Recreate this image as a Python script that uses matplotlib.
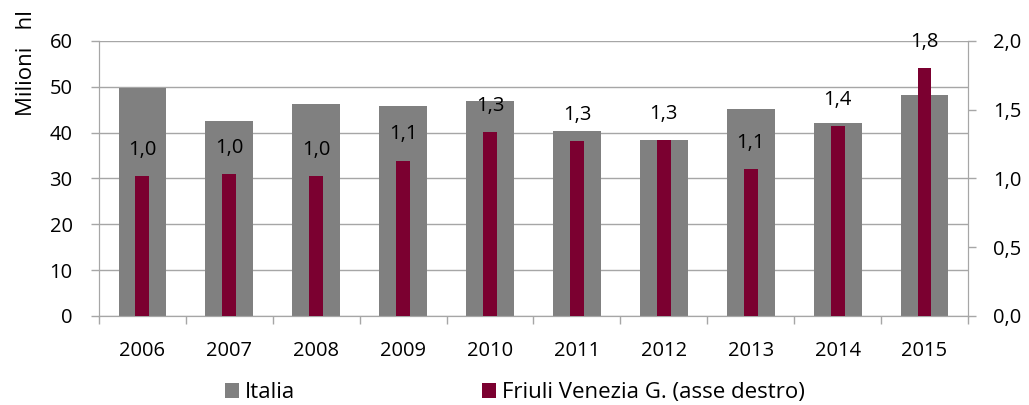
import numpy as np
import matplotlib
matplotlib.use("Agg")
import matplotlib.pyplot as plt
from matplotlib.ticker import FixedLocator

plt.rcParams['font.family'] = ['Open Sans', 'DejaVu Sans']

anni = ['2006', '2007', '2008', '2009', '2010', '2011', '2012', '2013', '2014', '2015']
italia = [49.7, 42.6, 46.3, 45.9, 46.8, 40.4, 38.3, 45.1, 42.1, 48.2]
fvg = [1.02, 1.03, 1.02, 1.13, 1.34, 1.27, 1.28, 1.07, 1.38, 1.80]
fvg_lab = ['1,0', '1,0', '1,0', '1,1', '1,3', '1,3', '1,3', '1,1', '1,4', '1,8']

grigio = '#808080'
rosso = '#7b0030'
linee = '#a6a6a6'
fs = 14.5

fig = plt.figure(figsize=(10.29, 4.05), dpi=100)
ax = fig.add_axes([0.0962, 0.2198, 0.8445, 0.679])
ax2 = ax.twinx()

x = np.arange(len(anni))
b1 = ax.bar(x, italia, width=0.55, color=grigio, zorder=2, label='Italia')
b2 = ax2.bar(x, fvg, width=0.16, color=rosso, zorder=3, label='Friuli Venezia G. (asse destro)')

for xi, v, t in zip(x, fvg, fvg_lab):
    ax2.text(xi, v + 0.19, t, ha='center', va='center', fontsize=fs)

ax.set_xlim(-0.5, len(anni) - 0.5)
ax.set_ylim(0, 60)
ax2.set_ylim(0, 2.0)
ax.set_yticks(range(0, 61, 10))
ax2.set_yticks([0, 0.5, 1.0, 1.5, 2.0])
ax2.set_yticklabels(['0,0', '0,5', '1,0', '1,5', '2,0'])
ax.set_xticks(x)
ax.set_xticklabels(anni)
ax.xaxis.set_minor_locator(FixedLocator(np.arange(-0.5, len(anni), 1)))
ax.tick_params(axis='x', which='major', length=0, pad=18, labelsize=fs)
ax.tick_params(axis='x', which='minor', length=6, color=linee, width=1)
ax.tick_params(axis='y', length=6, color=linee, width=1, labelsize=fs, pad=13)
ax2.tick_params(axis='y', length=6, color=linee, width=1, labelsize=fs, pad=12)

ax.grid(axis='y', color=linee, linewidth=1, zorder=0)
ax.set_axisbelow(True)
for a in (ax, ax2):
    a.spines['top'].set_visible(False)
    for s in ('left', 'right', 'bottom'):
        a.spines[s].set_color(linee)
ax.patch.set_visible(False)
ax2.set_zorder(ax.get_zorder() + 1)
ax2.patch.set_visible(False)

fig.text(0.026, 0.975, 'Milioni   hl', rotation=90, ha='center', va='top', fontsize=16)

fig.legend(handles=[b1, b2], loc='lower left', bbox_to_anchor=(218 / 1029, -0.012), ncol=2,
           frameon=False, fontsize=16, handlelength=0.65, handleheight=0.65,
           handletextpad=0.25, columnspacing=8.4, borderpad=0.3, borderaxespad=0)

fig.savefig('out.png', dpi=100)
